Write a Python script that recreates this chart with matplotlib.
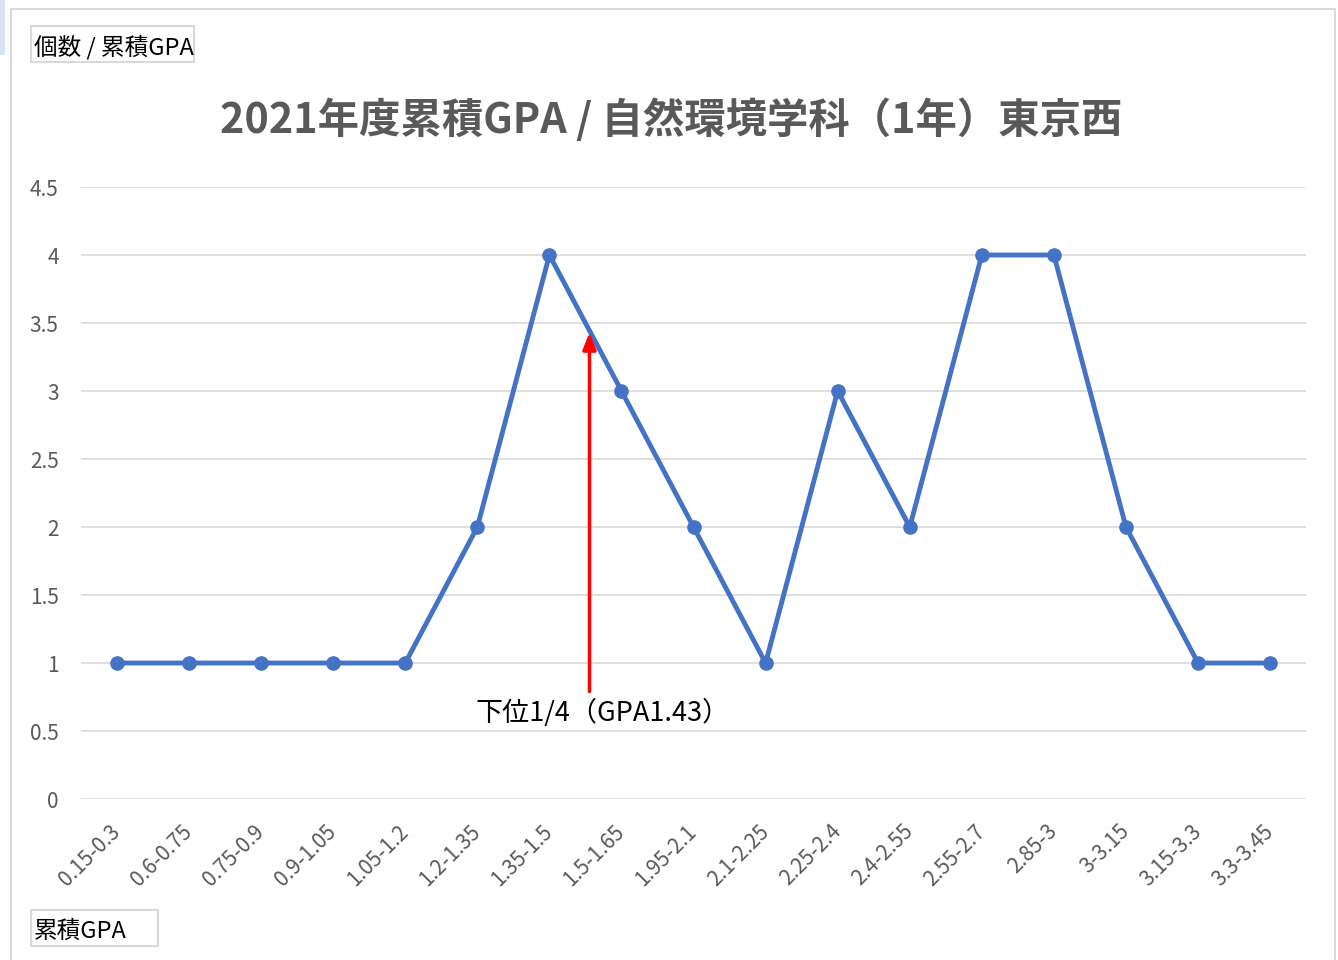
import matplotlib
matplotlib.use("Agg")
import matplotlib.pyplot as plt
from matplotlib.patches import Rectangle

plt.rcParams['font.family'] = ['Noto Sans CJK JP', 'DejaVu Sans']

# data
categories = ["0.15-0.3", "0.6-0.75", "0.75-0.9", "0.9-1.05", "1.05-1.2",
              "1.2-1.35", "1.35-1.5", "1.5-1.65", "1.95-2.1", "2.1-2.25",
              "2.25-2.4", "2.4-2.55", "2.55-2.7", "2.85-3", "3-3.15",
              "3.15-3.3", "3.3-3.45"]
counts = [1, 1, 1, 1, 1, 2, 4, 3, 2, 1, 3, 2, 4, 4, 2, 1, 1]
y_ticks = [0, 0.5, 1, 1.5, 2, 2.5, 3, 3.5, 4, 4.5]
y_ticklabels = ["0", "0.5", "1", "1.5", "2", "2.5", "3", "3.5", "4", "4.5"]

title = "2021年度累積GPA / 自然環境学科（1年）東京西"
y_title = "個数 / 累積GPA"
x_title = "累積GPA"
quartile_text = "下位1/4（GPA1.43）"
quartile_pos = 6.556      # between 1.35-1.5 and 1.5-1.65
arrow_top = 3.43
arrow_bottom = 0.79

grey = '#595959'
W, H = 1338, 960

fig = plt.figure(figsize=(13.38, 9.6), dpi=100)
ax = fig.add_axes([0.0605, 0.1677, 0.9157, 0.6375])

x = list(range(len(categories)))
ax.plot(x, counts, color='#4472C4', linewidth=3.5, marker='o',
        markersize=9.5, zorder=3)

ax.set_xlim(-0.5, len(categories) - 0.5)
ax.set_ylim(0, 4.5)
ax.set_yticks(y_ticks)
ax.set_yticklabels(y_ticklabels)
ax.set_xticks(x)
ax.set_xticklabels(categories, rotation=45, ha='right', va='center',
                   rotation_mode='anchor')
ax.tick_params(axis='both', length=0, colors=grey, labelsize=15)
ax.tick_params(axis='y', pad=16)
ax.tick_params(axis='x', pad=21)
ax.grid(axis='y', color='#D9D9D9', linewidth=1.2)
ax.set_axisbelow(True)
for s in ax.spines.values():
    s.set_visible(False)

# quartile arrow
ax.annotate("", xy=(quartile_pos, arrow_top), xytext=(quartile_pos, arrow_bottom),
            arrowprops=dict(arrowstyle='-|>,head_length=1.0,head_width=0.4',
                            color='#FF0000', lw=2.5, shrinkA=0, shrinkB=0),
            zorder=4)
ax.text(quartile_pos + 0.187, arrow_bottom - 0.16, quartile_text, ha='center',
        va='center', fontsize=19.5, color='#000000')

fig.text(0.502, 0.875, title, ha='center', va='center', fontsize=29.8,
         fontweight='bold', color=grey)

# axis title boxes
def label_box(x0, y0, x1, y1, txt):
    fig.patches.append(Rectangle((x0 / W, 1 - y1 / H), (x1 - x0) / W, (y1 - y0) / H,
                                 transform=fig.transFigure, facecolor='white',
                                 edgecolor='#D9D9D9', linewidth=1.5))
    fig.text((x0 + 3) / W, 1 - ((y0 + y1) / 2 + 3) / H, txt, ha='left',
             va='center', fontsize=17, color='#000000')

label_box(31, 26, 194, 62, y_title)
label_box(31, 910, 158, 946, x_title)

# chart area border and selection hint
fig.patches.append(Rectangle((11 / W, -0.05), 1324 / W, 1.05 - 9 / H,
                             transform=fig.transFigure, fill=False,
                             edgecolor='#D9D9D9', linewidth=1.5))
fig.patches.append(Rectangle((0, 1 - 55 / H), 5 / W, 55 / H,
                             transform=fig.transFigure, facecolor='#DAE3F3',
                             edgecolor='none'))

plt.savefig("out.png", dpi=100)
